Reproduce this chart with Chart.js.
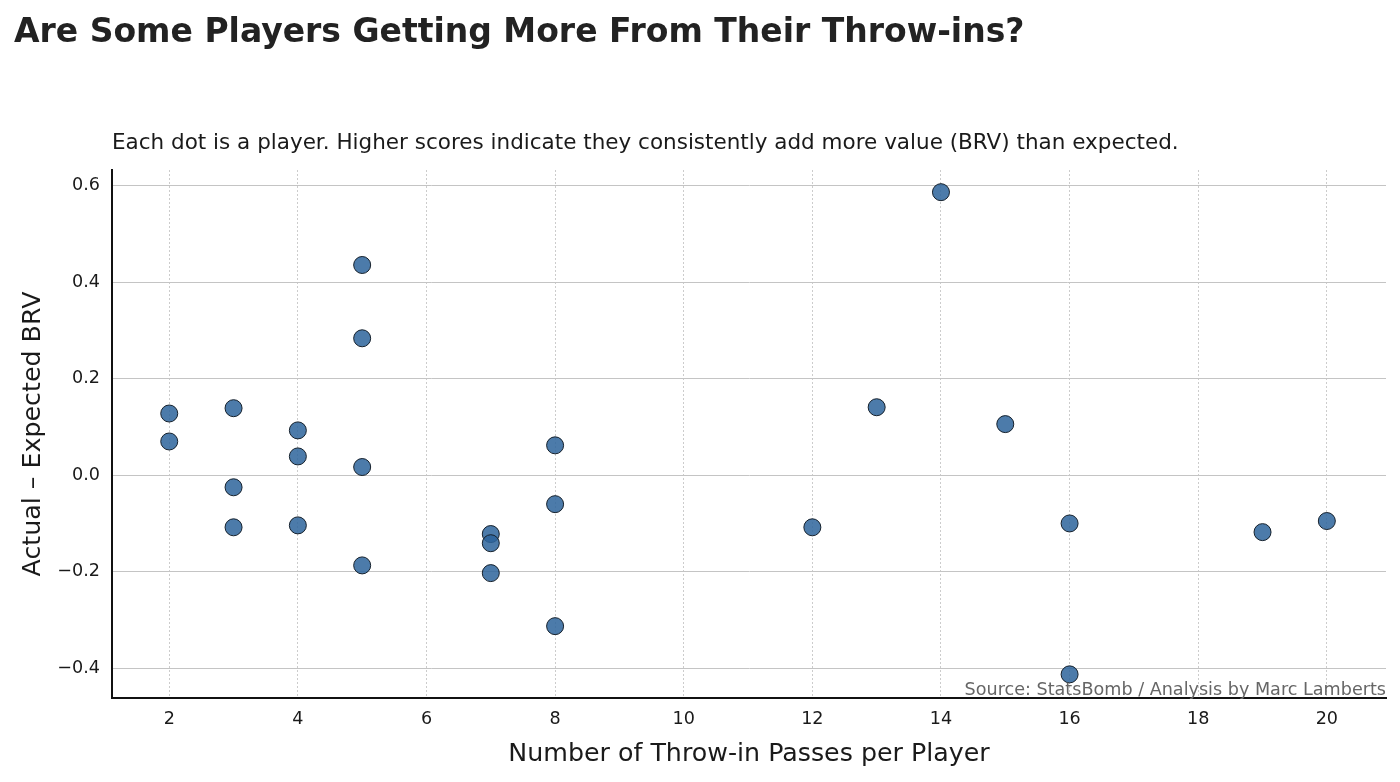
<!DOCTYPE html>
<html>
<head>
<meta charset="utf-8">
<script src="https://cdn.jsdelivr.net/npm/chart.js@4/dist/chart.umd.min.js"></script>
<style>
  html, body { margin: 0; padding: 0; background: #fff; }
  #wrap { width: 1400px; height: 782px; position: relative; }
</style>
</head>
<body>
<div id="wrap"><canvas id="myChart" width="1400" height="782"></canvas></div>
<script>
// throw-in passes per player and actual - expected BRV
var passes = [2, 2, 3, 3, 3, 4, 4, 4, 5, 5, 5, 5, 7, 7, 7, 8, 8, 8, 12, 13, 14, 15, 16, 16, 19, 20];
var brvDiff = [0.128, 0.070, 0.139, -0.025, -0.108, 0.093, 0.039, -0.104, 0.436, 0.284, 0.017, -0.187,
  -0.122, -0.141, -0.203, 0.062, -0.060, -0.313, -0.108, 0.141, 0.587, 0.106, -0.100, -0.413, -0.118, -0.095];
var xTicks = [2, 4, 6, 8, 10, 12, 14, 16, 18, 20];
var yTicks = [-0.4, -0.2, 0, 0.2, 0.4, 0.6];

var FONT = "'DejaVu Sans', sans-serif";

var points = passes.map(function (x, i) {
  return { x: x, y: brvDiff[i] };
});

// title, subtitle and source note
var textPlugin = {
  id: 'texts',
  afterDraw: function (chart) {
    var c = chart.ctx;
    var area = chart.chartArea;
    c.save();
    c.fillStyle = '#222';
    c.textBaseline = 'alphabetic';
    c.textAlign = 'left';
    c.font = 'bold 33px ' + FONT;
    c.fillText('Are Some Players Getting More From Their Throw-ins?', 14, 42);
    c.font = '21.5px ' + FONT;
    c.fillStyle = '#1a1a1a';
    c.fillText('Each dot is a player. Higher scores indicate they consistently add more value (BRV) than expected.', area.left, 149);
    c.font = '17.6px ' + FONT;
    c.fillStyle = '#666';
    c.textAlign = 'right';
    c.fillText('Source: StatsBomb / Analysis by Marc Lamberts', area.right, 695);
    c.restore();
  }
};

var ctx = document.getElementById('myChart');
var chart = new Chart(ctx, {
  type: 'scatter',
  data: {
    datasets: [{
      data: points,
      pointRadius: 8.5,
      pointHoverRadius: 8.5,
      backgroundColor: 'rgba(45, 100, 155, 0.85)',
      borderColor: '#15202b',
      borderWidth: 1
    }]
  },
  options: {
    responsive: false,
    animation: false,
    layout: { padding: { left: 0, top: 170, right: 14, bottom: 0 } },
    plugins: {
      legend: { display: false },
      tooltip: { enabled: false }
    },
    scales: {
      x: {
        type: 'linear',
        min: 1.11,
        max: 20.92,
        afterBuildTicks: function (scale) {
          scale.ticks = xTicks.map(function (v) { return { value: v }; });
        },
        afterFit: function (scale) { scale.height = 84; },
        grid: {
          color: '#cccccc',
          lineWidth: 1,
          drawTicks: false
        },
        border: { display: true, color: '#111', width: 2, dash: [2, 2] },
        ticks: {
          padding: 11,
          color: '#1a1a1a',
          font: { family: FONT, size: 17.6 },
          callback: function (v) { return String(v); }
        },
        title: {
          display: true,
          text: 'Number of Throw-in Passes per Player',
          color: '#1a1a1a',
          font: { family: FONT, size: 25.3 },
          padding: { top: 0, bottom: 12 }
        }
      },
      y: {
        type: 'linear',
        min: -0.462,
        max: 0.633,
        afterBuildTicks: function (scale) {
          scale.ticks = yTicks.map(function (v) { return { value: v }; });
        },
        afterFit: function (scale) { scale.width = 112; },
        grid: {
          color: '#c4c4c4',
          lineWidth: 1,
          drawTicks: false
        },
        border: { display: true, color: '#111', width: 2 },
        ticks: {
          padding: 12,
          color: '#1a1a1a',
          font: { family: FONT, size: 17.6 },
          callback: function (v) {
            return (v < 0 ? '\u2212' : '') + Math.abs(v).toFixed(1);
          }
        },
        title: {
          display: true,
          text: 'Actual \u2013 Expected BRV',
          color: '#1a1a1a',
          font: { family: FONT, size: 25.3 },
          padding: { top: 18, bottom: 0 }
        }
      }
    }
  },
  plugins: [textPlugin]
});
</script>
</body>
</html>
